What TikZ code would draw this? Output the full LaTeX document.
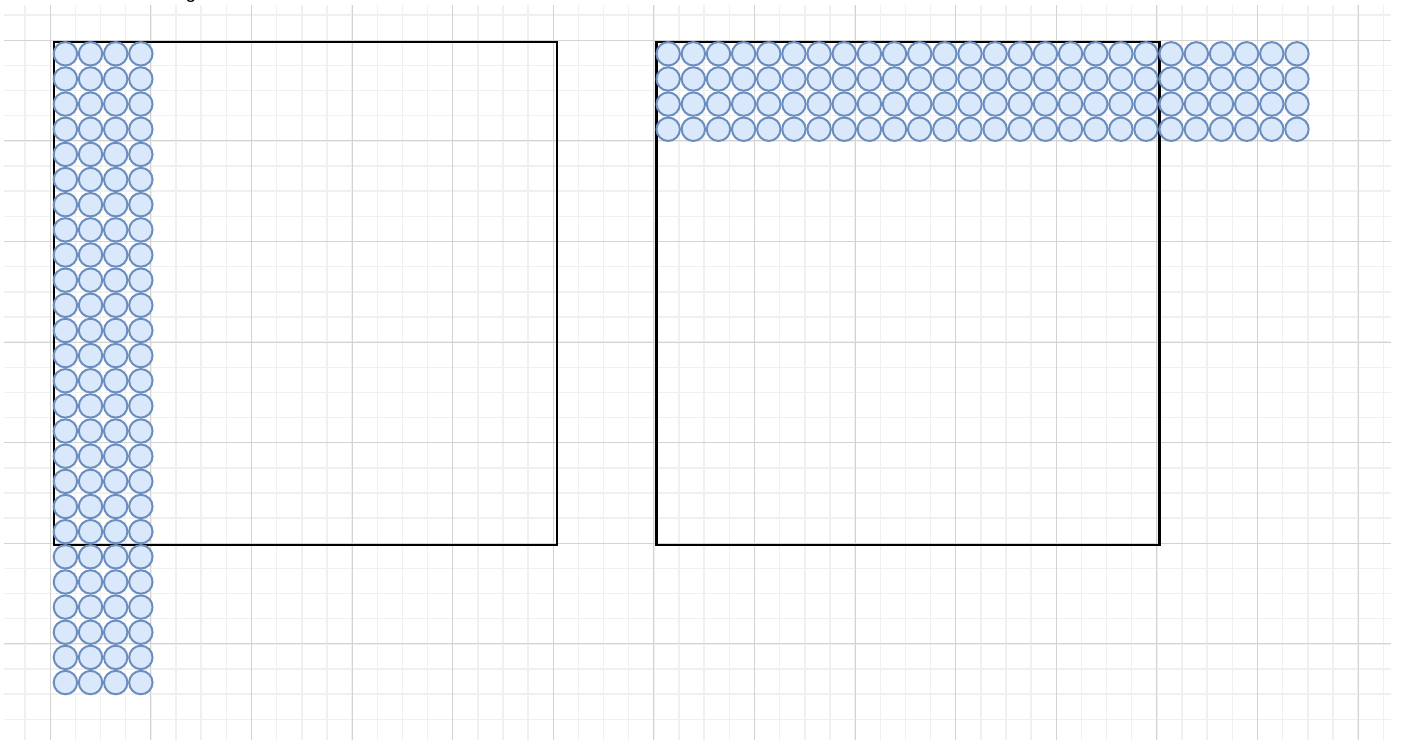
\documentclass[tikz,border=0pt]{standalone}
\usepackage{fontspec}
\setmainfont{Liberation Sans}
\definecolor{minorgrid}{HTML}{F0F0F0}
\definecolor{majorgrid}{HTML}{D3D3D3}
\definecolor{cfill}{HTML}{DAE8FC}
\definecolor{cdraw}{HTML}{6C8EBF}
\begin{document}
\begin{tikzpicture}[x=0.75pt,y=-0.75pt,
  minorline/.style={draw=minorgrid,line width=1.1pt},
  majorline/.style={draw=majorgrid,line width=0.75pt},
  frame/.style={draw=black,line width=1.6pt,fill=none},
  ball/.style={circle,draw=cdraw,fill=cfill,line width=1.5pt,inner sep=0pt,minimum size=23.4*0.75pt}]
\useasboundingbox (0,0) rectangle (1404,740);
\fill[white] (0,0) rectangle (1404,740);
% minor grid
\foreach \i in {0,...,55} {
  \pgfmathsetmacro{\gx}{25.15+25.15*\i}
  \draw[minorline] (\gx,5) -- (\gx,740);
}
\foreach \j in {0,...,29} {
  \pgfmathsetmacro{\gy}{15.15+25.15*\j}
  \draw[minorline] (4,\gy) -- (1391,\gy);
}
% major grid
\foreach \i in {0,...,13} {
  \pgfmathsetmacro{\gx}{50.3+100.6*\i}
  \draw[majorline] (\gx,5) -- (\gx,740);
}
\foreach \j in {0,...,6} {
  \pgfmathsetmacro{\gy}{40.3+100.6*\j}
  \draw[majorline] (4,\gy) -- (1391,\gy);
}
% clipped title text
\node[anchor=base,font=\Large,inner sep=0pt] (title) at (191,-1.5) {g};
% boxes
\node[frame,minimum width=503*0.75pt,minimum height=503*0.75pt,inner sep=0pt,anchor=north west] (boxL) at (52.6,41.2) {};
\node[frame,minimum width=503*0.75pt,minimum height=503*0.75pt,inner sep=0pt,anchor=north west] (boxR) at (655.4,41.2) {};
% left column of circles
\foreach \c in {0,...,3} {
  \foreach \r in {0,...,25} {
    \node[ball] (L-\c-\r) at ({65.4+25.15*\c},{53.8+25.15*\r}) {};
  }
}
% right row of circles
\foreach \c in {0,...,25} {
  \foreach \r in {0,...,3} {
    \node[ball] (R-\c-\r) at ({668.2+25.15*\c},{53.8+25.15*\r}) {};
  }
}
\end{tikzpicture}
\end{document}
